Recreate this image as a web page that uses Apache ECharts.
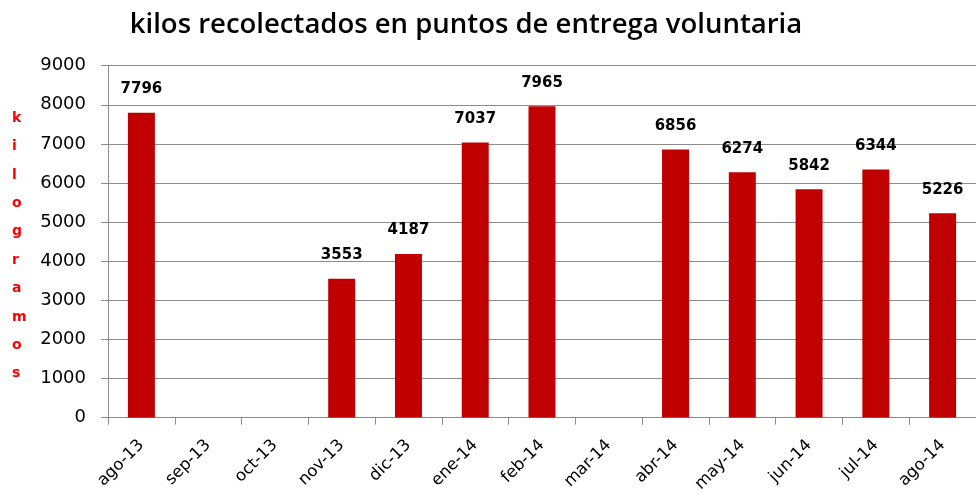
<!DOCTYPE html>
<html>
<head>
<meta charset="utf-8">
<script src="https://cdn.jsdelivr.net/npm/echarts@6/dist/echarts.min.js"></script>
<style>
  html, body { margin: 0; padding: 0; background: #fff; }
  #chart { width: 976px; height: 495px; }
</style>
</head>
<body>
<div id="chart"></div>
<script>
// datos
const months = ['ago-13', 'sep-13', 'oct-13', 'nov-13', 'dic-13', 'ene-14', 'feb-14', 'mar-14', 'abr-14', 'may-14', 'jun-14', 'jul-14', 'ago-14'];
const kilos = [7796, null, null, 3553, 4187, 7037, 7965, null, 6856, 6274, 5842, 6344, 5226];
const yTicks = { min: 0, max: 9000, step: 1000 };
const yTitle = 'kilogramos';

const chart = echarts.init(document.getElementById('chart'));

const option = {
    animation: false,
    title: {
        text: 'kilos recolectados en puntos de entrega voluntaria',
        left: 461,
        top: 6,
        textAlign: 'center',
        textStyle: {
            fontFamily: 'Open Sans',
            fontWeight: 600,
            fontSize: 27.5,
            color: '#000'
        }
    },
    graphic: [{
        type: 'text',
        left: 12,
        top: 104,
        style: {
            text: yTitle.split('').join('\n'),
            fontFamily: 'DejaVu Sans',
            fontWeight: 'bold',
            fontSize: 14,
            lineHeight: 28.4,
            fill: '#ff0000',
            align: 'center',
            width: 12
        }
    }],
    grid: {
        left: 108,
        top: 65.7,
        width: 874,
        height: 352
    },
    xAxis: {
        type: 'category',
        data: months,
        axisLine: { lineStyle: { color: '#8c8c8c', width: 1 } },
        axisTick: { show: true, length: 7, lineStyle: { color: '#8c8c8c' } },
        axisLabel: {
            rotate: 45,
            interval: 0,
            margin: 25,
            fontFamily: 'DejaVu Sans',
            fontSize: 16.5,
            color: '#000'
        }
    },
    yAxis: {
        type: 'value',
        min: yTicks.min,
        max: yTicks.max,
        interval: yTicks.step,
        axisLine: { show: true, lineStyle: { color: '#8c8c8c', width: 1 } },
        axisTick: { show: true, length: 7, lineStyle: { color: '#8c8c8c' } },
        splitLine: { lineStyle: { color: '#8c8c8c', width: 1 } },
        axisLabel: {
            margin: 22,
            formatter: (v) => String(v),
            fontFamily: 'DejaVu Sans',
            fontSize: 18,
            color: '#000'
        }
    },
    series: [{
        type: 'bar',
        data: kilos,
        barWidth: 27,
        itemStyle: { color: '#c00000' },
        label: {
            show: true,
            position: 'top',
            distance: 16,
            fontFamily: 'DejaVu Sans',
            fontWeight: 'bold',
            fontSize: 15,
            color: '#000'
        }
    }]
};

chart.setOption(option);
</script>
</body>
</html>
